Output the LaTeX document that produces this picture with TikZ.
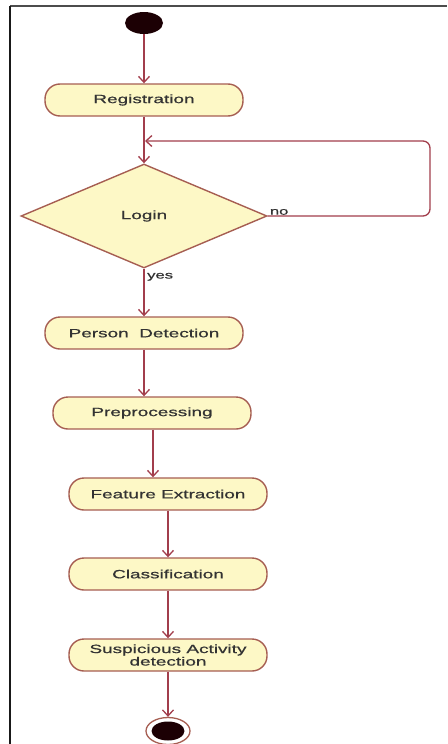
\documentclass[tikz,border=0pt]{standalone}
\usepackage{fontspec}
\usetikzlibrary{arrows.meta,shapes.geometric}
\newfontfamily\diagfont[FakeStretch=1.58,FakeBold=0.7]{Liberation Sans}
\definecolor{actfill}{HTML}{FDF8C6}
\definecolor{actedge}{HTML}{A65E52}
\definecolor{flowcol}{HTML}{A23E4C}
\definecolor{txtcol}{HTML}{333333}
\definecolor{dotcol}{HTML}{1C0004}
\begin{document}
\begin{tikzpicture}[x=1pt,y=-1pt,
  every node/.style={font=\diagfont\fontsize{12}{12.5}\selectfont, text=txtcol},
  activity/.style={draw=actedge, line width=1.4pt, fill=actfill, rounded corners=15pt,
    minimum width=198pt, minimum height=32pt, inner sep=0pt, align=center},
  decision/.style={diamond, draw=actedge, line width=1.4pt, fill=actfill,
    minimum width=246pt, minimum height=104pt, inner sep=0pt},
  flow/.style={draw=flowcol, line width=1.3pt, -{Straight Barb[length=6pt,width=11pt]}},
  guard/.style={font=\diagfont\fontsize{10.5}{10.5}\selectfont}
]
\useasboundingbox (0,0) rectangle (447,744);
% frame
\draw[line width=2pt, black!70] (10,6) -- (447,6);
\draw[line width=2pt, black!90] (10,6) -- (10,744);

% start / end
\node[ellipse, fill=dotcol, minimum width=38pt, minimum height=22pt, inner sep=0pt] (start) at (144,23) {};
\node[ellipse, draw=actedge, line width=1.3pt, fill=white, minimum width=44pt, minimum height=27pt, inner sep=0pt] (stop) at (168,731) {};
\node[ellipse, fill=dotcol, minimum width=33pt, minimum height=19pt, inner sep=0pt] (stopdot) at (168,731) {};

% activities
\node[activity] (reg) at (144,100) {Registration};
\node[decision] (login) at (144,216) {Login};
\node[activity] (pd) at (144,333) {Person\ \ Detection};
\node[activity] (pre) at (152,413) {Preprocessing};
\node[activity] (fe) at (168,494) {Feature Extraction};
\node[activity] (cls) at (168,574) {Classification};
\node[activity] (sus) at (168,655) {Suspicious Activity\\detection};

% flows
\draw[flow] (start) -- (reg);
\draw[flow] (reg) -- (login);
\coordinate (back) at (145,141);
\draw[flow, rounded corners=7pt] (login.east) -- (430,216) |- (back);
\node[guard, anchor=south west, inner sep=1pt] at ([xshift=1pt]login.east) {no};
\draw[flow] (login.south) -- (pd.north);
\node[guard, anchor=north west, inner sep=1pt] at ([xshift=2pt,yshift=-3pt]login.south) {yes};
\draw[flow] (pd.south) -- (pd.south |- pre.north);
\draw[flow] ([xshift=1pt]pre.south) -- ([xshift=1pt]pre.south |- fe.north);
\draw[flow] (fe) -- (cls);
\draw[flow] (cls) -- (sus);
\draw[flow] (sus) -- (stop);
\end{tikzpicture}
\end{document}
